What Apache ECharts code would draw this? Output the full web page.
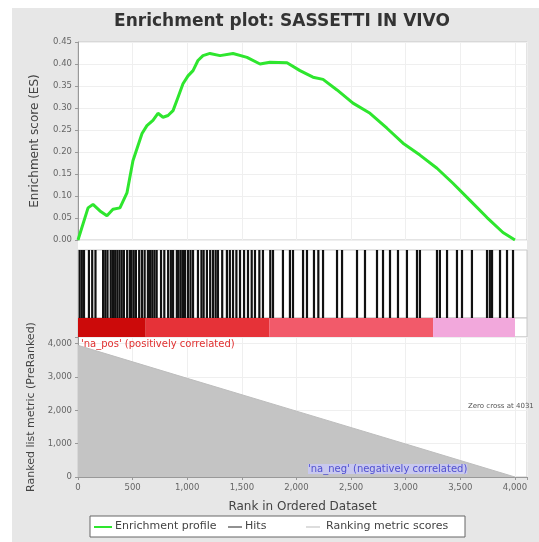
<!DOCTYPE html>
<html><head><meta charset="utf-8">
<script src="https://cdn.jsdelivr.net/npm/echarts@6/dist/echarts.min.js"></script>
<style>html,body{margin:0;padding:0;background:#fff}#c{width:539px;height:542px}</style>
</head><body><div id="c"></div>
<script>
// ---- data ----
const esRank = [0,92,137,201,265,320,384,448,503,586,631,686,732,778,824,870,915,961,1007,1053,1098,1144,1208,1300,1419,1547,1666,1757,1913,2032,2151,2243,2371,2517,2673,2828,2975,3130,3286,3432,3588,3744,3890,4000];
const esValue = [0.000,0.073,0.081,0.066,0.055,0.070,0.073,0.107,0.180,0.242,0.260,0.272,0.288,0.279,0.283,0.294,0.324,0.355,0.373,0.385,0.408,0.419,0.424,0.419,0.424,0.415,0.400,0.404,0.403,0.385,0.370,0.365,0.341,0.311,0.288,0.254,0.220,0.193,0.163,0.129,0.090,0.051,0.017,0.000];
const hitRanks = [15,35,55,100,130,160,230,250,270,300,320,340,360,380,400,420,450,475,490,510,530,560,585,610,640,660,680,700,720,760,790,825,850,870,905,920,940,960,980,1007,1030,1053,1098,1130,1150,1180,1210,1236,1260,1281,1320,1363,1390,1419,1450,1483,1520,1556,1590,1620,1660,1693,1760,1785,1876,1940,1968,2060,2096,2160,2200,2243,2371,2417,2554,2627,2737,2792,2856,2929,3011,3103,3130,3286,3313,3378,3469,3515,3606,3744,3770,3790,3863,3927,3982];
const heatStart = [0,620,1750,3250];
const heatEnd = [620,1750,3250,4000];
const metricRank = [0,1000,2000,3000,4000];
const metricValue = [3950,2960,1975,990,0];
const rankTicks = [0,500,1000,1500,2000,2500,3000,3500,4000];
const metricTicks = [0,1000,2000,3000,4000];

// ---- styles ----
const heatColors = ['#cc0a0a','#e63238','#f25a6a','#f2a8dc'];
const FONT = 'DejaVu Sans';
const XMAX = 4110;
const fmtNum = v => v.toLocaleString('en-US');

const chart = echarts.init(document.getElementById('c'), null, {renderer:'canvas'});
const L = 78, W = 449;
const grids = [
  {left:L, top:42, width:W, height:198},
  {left:L, top:250, width:W, height:68},
  {left:L, top:318, width:W, height:19},
  {left:L, top:337, width:W, height:140}
].map(g => Object.assign({show:true, backgroundColor:'#fff', borderColor:'#c8c8c8', borderWidth:1, containLabel:false}, g));

function xAxis(i, show){
  return {type:'value', gridIndex:i, min:0, max:XMAX, interval:500,
    axisLine:{show:show, lineStyle:{color:'#999'}}, axisTick:{show:show, length:3, lineStyle:{color:'#999'}},
    axisLabel:{show:show, fontFamily:FONT, fontSize:8.5, color:'#666', margin:6,
      formatter:v => rankTicks.includes(v) ? fmtNum(v) : ''},
    splitLine:{show:i!==1 && i!==2, lineStyle:{color:'#efefef'}},
    name: show ? 'Rank in Ordered Dataset' : '', nameLocation:'middle', nameGap:24,
    nameTextStyle:{fontFamily:FONT, fontSize:12, color:'#444'}};
}

const option = {
  animation:false,
  backgroundColor:'#fff',
  title:{text:'Enrichment plot: SASSETTI IN VIVO', left:277, textAlign:'center', top:8,
    textStyle:{fontFamily:FONT, fontWeight:'bold', fontSize:17, color:'#333'}},
  grid:grids,
  xAxis:[xAxis(0,false), xAxis(1,false), xAxis(2,false), xAxis(3,true)],
  yAxis:[
    {type:'value', gridIndex:0, min:0, max:0.45, interval:0.05,
      axisLine:{show:true, lineStyle:{color:'#999'}}, axisTick:{show:true,length:3},
      axisLabel:{fontFamily:FONT, fontSize:8.5, color:'#666', margin:6, formatter:v=>v.toFixed(2)},
      splitLine:{show:true, lineStyle:{color:'#efefef'}},
      name:'Enrichment score (ES)', nameLocation:'middle', nameGap:37, nameRotate:90,
      nameTextStyle:{fontFamily:FONT, fontSize:12, color:'#444'}},
    {type:'value', gridIndex:1, min:0, max:1, show:false},
    {type:'value', gridIndex:2, min:0, max:1, show:false},
    {type:'value', gridIndex:3, min:0, max:4200, interval:1000,
      axisLine:{show:true, lineStyle:{color:'#999'}}, axisTick:{show:true,length:3},
      axisLabel:{fontFamily:FONT, fontSize:8.5, color:'#666', margin:6,
        formatter:v => metricTicks.includes(v) ? fmtNum(v) : ''},
      splitLine:{show:true, lineStyle:{color:'#efefef'}},
      name:'Ranked list metric (PreRanked)', nameLocation:'middle', nameGap:37, nameRotate:90,
      nameTextStyle:{fontFamily:FONT, fontSize:11, color:'#444'}}
  ],
  series:[
    {type:'line', xAxisIndex:0, yAxisIndex:0, data:esRank.map((r,i)=>[r,esValue[i]]),
      showSymbol:false, smooth:false, lineStyle:{color:'#2ee62e', width:3}, z:5},
    {type:'custom', xAxisIndex:1, yAxisIndex:1, data:hitRanks.map(r=>[r]),
      renderItem:(p,api)=>{const a=api.coord([api.value(0),0]); const b=api.coord([api.value(0),1]);
        return {type:'line', shape:{x1:a[0],y1:a[1],x2:b[0],y2:b[1]}, style:{stroke:'#111', lineWidth:2.2}};}},
    {type:'custom', xAxisIndex:2, yAxisIndex:2, data:heatStart.map((s,i)=>[s,heatEnd[i],i]),
      renderItem:(p,api)=>{const a=api.coord([api.value(0),1]); const b=api.coord([api.value(1),0]);
        return {type:'rect', shape:{x:a[0],y:a[1],width:b[0]-a[0],height:b[1]-a[1]}, style:{fill:heatColors[api.value(2)]}};}},
    {type:'line', xAxisIndex:3, yAxisIndex:3, data:metricRank.map((r,i)=>[r,metricValue[i]]),
      showSymbol:false, lineStyle:{color:'#bdbdbd', width:1}, areaStyle:{color:'#c4c4c4', opacity:1}, z:3}
  ],
  graphic:[
    {type:'rect', z:-10, shape:{x:12,y:8,width:527,height:534}, style:{fill:'#e7e7e7'}},
    {type:'rect', z:-9, shape:{x:L,y:42,width:W,height:436}, style:{fill:'#fff'}},
    {type:'text', z:10, left:81, top:339, style:{text:"'na_pos' (positively correlated)", fill:'#e03030', font:'10px "DejaVu Sans"'}},
    {type:'text', z:10, left:308, top:464, style:{text:"'na_neg' (negatively correlated)", fill:'#5050d0', font:'10px "DejaVu Sans"', backgroundColor:'#c8c8ee'}},
    {type:'text', z:10, left:468, top:403, style:{text:'Zero cross at 4031', fill:'#555', font:'7px "DejaVu Sans"'}},
    {type:'rect', z:10, shape:{x:90,y:516,width:375,height:21}, style:{fill:'#fff', stroke:'#666', lineWidth:1}},
    {type:'line', z:11, shape:{x1:94,y1:527,x2:112,y2:527}, style:{stroke:'#2ee62e', lineWidth:2}},
    {type:'text', z:11, left:115, top:521, style:{text:'Enrichment profile', fill:'#444', font:'11px "DejaVu Sans"'}},
    {type:'line', z:11, shape:{x1:228,y1:527,x2:242,y2:527}, style:{stroke:'#222', lineWidth:1}},
    {type:'text', z:11, left:245, top:521, style:{text:'Hits', fill:'#444', font:'11px "DejaVu Sans"'}},
    {type:'line', z:11, shape:{x1:306,y1:527,x2:320,y2:527}, style:{stroke:'#bbb', lineWidth:1}},
    {type:'text', z:11, left:326, top:521, style:{text:'Ranking metric scores', fill:'#444', font:'11px "DejaVu Sans"'}}
  ]
};
chart.setOption(option);
</script></body></html>
